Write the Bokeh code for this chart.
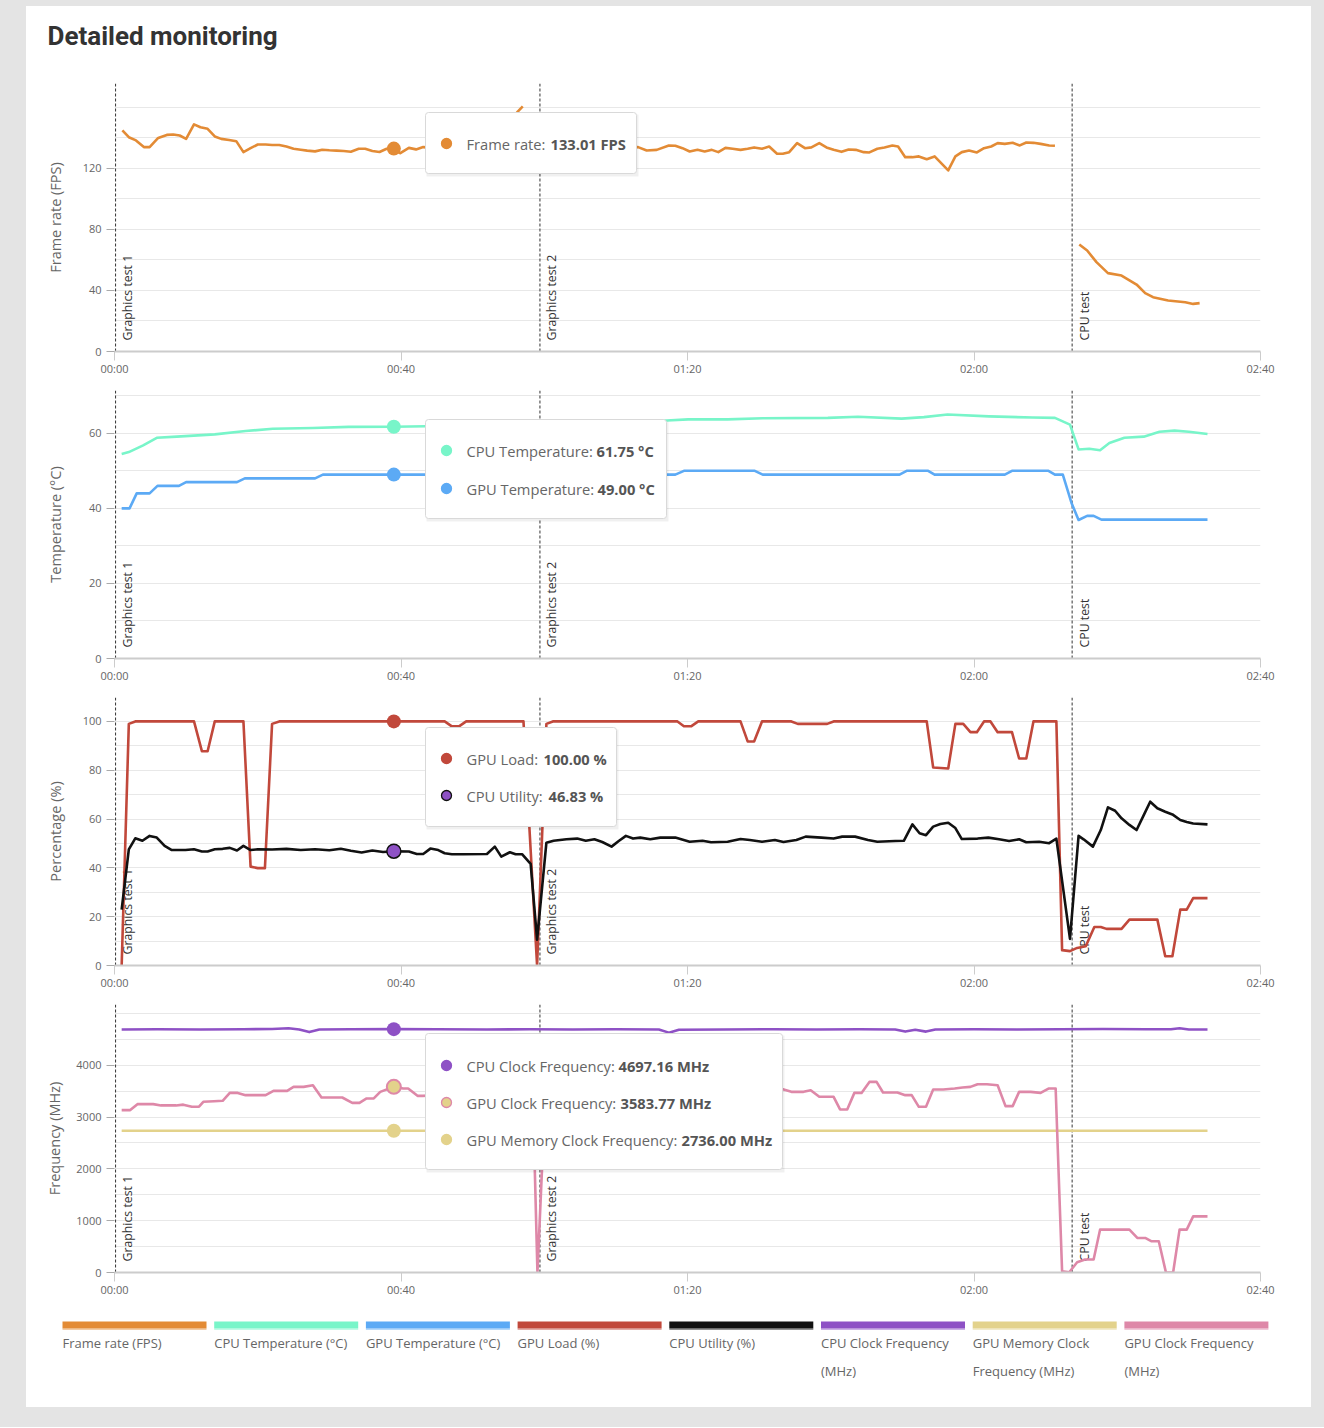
import math
import numpy as np
from bokeh.plotting import figure
from bokeh.models import Range1d, FixedTicker, Span, Label, Spacer
from bokeh.layouts import column, row
from bokeh.embed import file_html
from bokeh.resources import INLINE
from bokeh.core.properties import value

FONT = "Open Sans"
TITLE_FONT = "Roboto"
nan = float("nan")

# ---------------- data ----------------
x_ticks = [0, 40, 80, 120, 160]
x_tick_labels = ["00:00", "00:40", "01:20", "02:00", "02:40"]
test_names = ["Graphics test 1", "Graphics test 2", "CPU test"]
test_starts = [0.15, 59.4, 133.7]
hover_time = 39.0

fps_t = [1.1, 2.0, 3.0, 4.1, 4.9, 6.1, 7.3, 8.2, 9.1, 10.0,
         11.1, 12.0, 13.0, 14.0, 14.9, 16.0, 17.0, 18.0, 19.0, 20.0,
         21.1, 22.0, 23.0, 24.0, 25.0, 26.0, 26.9, 28.0, 29.0, 30.0,
         31.0, 32.0, 33.0, 34.1, 35.0, 36.0, 37.0, 38.0, 39.0, 39.9,
         41.1, 42.1, 43.1, 44.5, 46.0, 47.5, 49.0, 50.5, 52.0, 53.5,
         55.2, 56.2, 57.0, nan, 60.5, 62.0, 64.0, 66.0, 68.0, 70.0,
         72.0, 73.1, 74.3, 75.7, 77.4, 78.3, 79.3, 80.3, 81.4, 82.4,
         83.4, 84.3, 85.3, 86.3, 87.4, 88.4, 89.3, 90.4, 91.4, 92.5,
         93.3, 94.2, 95.3, 96.4, 97.3, 98.4, 99.4, 100.4, 101.5, 102.5,
         103.5, 104.6, 105.4, 106.5, 107.5, 108.6, 109.4, 110.4, 111.4, 112.3,
         113.4, 114.5, 116.4, 117.4, 118.3, 119.3, 120.4, 121.4, 122.4, 123.3,
         124.3, 125.4, 126.4, 127.3, 128.3, 129.3, 130.5, 131.3, nan, 134.7,
         135.8, 137.1, 138.7, 140.6, 142.7, 143.9, 145.0, 147.1, 149.5, 150.6,
         151.5]
fps_v = [145.0, 140.5, 138.4, 134.0, 134.0, 140.0, 142.0, 142.3, 141.6, 139.4,
         148.9, 147.0, 146.0, 141.0, 139.4, 138.7, 137.9, 130.7, 133.3, 135.7,
         135.7, 135.4, 135.4, 134.4, 132.9, 132.3, 131.7, 131.2, 132.3, 131.9,
         131.7, 131.4, 131.0, 132.9, 132.9, 131.4, 130.8, 132.9, 133.01, 130.0,
         133.5, 132.5, 134.0, 133.5, 134.0, 133.0, 134.5, 133.5, 134.0, 135.0,
         142.0, 156.7, 160.7, nan, 136.0, 134.0, 133.0, 134.0, 133.0, 134.0,
         133.5, 134.0, 131.8, 132.2, 135.1, 134.9, 133.3, 131.1, 132.2, 131.1,
         132.2, 130.7, 133.5, 132.9, 132.2, 132.9, 133.8, 132.9, 134.4, 129.6,
         129.6, 130.7, 136.6, 133.3, 133.8, 136.6, 133.8, 132.2, 130.9, 132.4,
         132.2, 130.7, 130.5, 132.9, 133.8, 135.1, 134.4, 127.4, 127.4, 127.9,
         126.1, 127.9, 118.7, 127.9, 130.7, 131.8, 130.5, 133.3, 134.4, 136.6,
         136.1, 136.8, 135.1, 137.0, 136.8, 136.1, 135.1, 134.9, nan, 70.2,
         66.2, 58.6, 51.4, 49.8, 43.9, 38.3, 35.6, 33.4, 32.3, 31.2,
         31.7]

cpu_temp_t = [1.0, 2.0, 4.0, 5.9, 8.7, 14.0, 18.3, 22.1, 27.7, 32.7,
              39.0, 48.0, 55.0, 62.0, 70.0, 76.0, 77.1, 80.1, 85.6, 90.5,
              99.6, 103.8, 109.9, 113.0, 116.3, 122.1, 128.2, 131.3, 133.4, 134.6,
              136.1, 137.6, 138.9, 141.0, 143.7, 145.9, 148.0, 150.0, 152.6]
cpu_temp_v = [54.5, 55.0, 56.8, 58.8, 59.1, 59.7, 60.6, 61.2, 61.4, 61.7,
              61.75, 62.0, 62.3, 62.7, 63.1, 63.3, 63.4, 63.7, 63.7, 64.0,
              64.1, 64.4, 63.9, 64.3, 65.0, 64.5, 64.2, 64.1, 62.3, 55.7,
              55.9, 55.5, 57.4, 58.8, 59.1, 60.4, 60.7, 60.4, 59.8]

gpu_temp_t = [1.0, 2.1, 3.1, 4.9, 6.0, 9.0, 10.0, 17.1, 18.2, 28.0,
              29.1, 39.0, 60.0, 77.1, 78.3, 79.5, 89.4, 90.5, 109.6, 110.6,
              113.6, 114.5, 124.3, 125.3, 130.4, 131.3, 132.4, 133.6, 134.6, 135.8,
              136.7, 137.8, 152.6]
gpu_temp_v = [40, 40, 44, 44, 46, 46, 47, 47, 48, 48,
              49, 49, 49, 49, 49, 50, 50, 49, 49, 50,
              50, 49, 49, 50, 50, 49, 49, 41.5, 36.9, 38,
              38, 37, 37]

gpu_load_t = [1.0, 2.0, 2.9, 11.1, 12.2, 13.0, 14.0, 18.0, 19.0, 20.0,
              21.0, 22.0, 23.0, 39.0, 46.1, 47.1, 48.1, 49.1, 57.1, 59.0,
              60.3, 61.2, 78.6, 79.5, 80.5, 81.5, 87.4, 88.4, 89.3, 90.4,
              94.5, 95.4, 99.5, 100.4, 113.4, 114.3, 116.4, 117.4, 118.5, 119.5,
              120.4, 121.4, 122.3, 123.3, 125.3, 126.3, 127.3, 128.3, 131.5, 132.3,
              133.4, 134.4, 135.6, 136.8, 137.7, 138.5, 140.6, 141.7, 145.6, 146.7,
              147.7, 148.8, 149.7, 150.6, 152.6]
gpu_load_v = [0, 99, 100, 100, 87.8, 87.8, 100, 100, 40.5, 39.9,
              39.9, 99, 100, 100, 100, 98, 98, 100, 100, 0,
              99, 100, 100, 98, 98, 100, 100, 91.8, 91.8, 100,
              100, 99, 99, 100, 100, 81.1, 80.7, 99, 99, 95.6,
              95.6, 100, 100, 95.6, 95.6, 84.8, 84.8, 100, 100, 6.3,
              5.9, 7.2, 7.9, 15.8, 15.8, 15, 15, 18.8, 18.8, 3.8,
              3.8, 22.9, 22.9, 27.6, 27.6]

cpu_util_t = [1.0, 2.0, 2.9, 3.9, 4.9, 5.9, 7.0, 8.0, 9.9, 11.1,
              12.2, 13.0, 14.0, 15.1, 16.1, 17.1, 18.0, 19.0, 20.0, 22.0,
              24.0, 26.0, 28.0, 30.0, 31.6, 33.0, 34.5, 36.0, 37.5, 39.0,
              41.1, 42.2, 43.1, 44.1, 45.2, 46.1, 47.1, 48.7, 52.0, 53.1,
              54.0, 55.2, 56.0, 56.9, 58.1, 59.0, 60.3, 61.3, 63.1, 64.6,
              65.8, 67.0, 68.1, 69.4, 70.4, 71.4, 72.4, 73.4, 74.8, 76.2,
              78.3, 80.3, 82.1, 83.3, 85.6, 87.4, 88.7, 90.4, 92.2, 93.4,
              95.2, 96.5, 98.7, 100.4, 101.6, 103.4, 105.2, 106.5, 109.0, 110.2,
              111.4, 112.4, 113.3, 114.3, 115.3, 116.4, 117.4, 118.3, 120.5, 122.0,
              123.5, 124.9, 126.3, 127.3, 129.1, 130.5, 131.5, 133.4, 134.6, 135.3,
              136.6, 137.7, 138.7, 139.7, 140.6, 141.7, 142.7, 143.7, 144.6, 145.6,
              146.7, 147.7, 148.8, 149.7, 150.6, 152.6]
cpu_util_v = [22.9, 47.6, 52.1, 51.1, 53.1, 52.4, 49.0, 47.3, 47.3, 47.6,
              46.7, 46.7, 47.6, 47.8, 48.2, 47.1, 49.0, 47.3, 47.6, 47.5,
              47.8, 47.3, 47.6, 47.2, 47.8, 47.0, 46.3, 47.1, 46.5, 46.83,
              46.7, 45.7, 45.7, 47.9, 47.3, 46.0, 45.6, 45.6, 45.7, 48.7,
              44.6, 46.4, 45.6, 45.6, 41.6, 10.6, 50.3, 51.1, 51.7, 52.0,
              51.1, 51.7, 50.6, 48.7, 51.0, 53.1, 52.0, 52.4, 51.7, 52.4,
              52.4, 50.7, 51.1, 50.5, 50.7, 51.8, 51.4, 50.7, 51.4, 50.6,
              51.4, 52.8, 52.4, 52.0, 52.8, 52.8, 51.4, 50.7, 51.0, 51.1,
              57.8, 54.2, 53.4, 56.9, 58.0, 58.5, 56.3, 51.8, 52.0, 52.4,
              51.7, 51.0, 51.7, 50.5, 50.7, 50.1, 52.0, 10.9, 53.1, 51.7,
              48.7, 55.5, 64.8, 63.4, 60.3, 57.6, 55.5, 61.6, 67.1, 64.4,
              63.0, 61.9, 59.6, 58.8, 58.2, 57.8]

cpu_clock_t = [1.0, 6.0, 12.0, 18.0, 22.0, 24.3, 25.8, 27.2, 28.6, 33.0,
               39.0, 45.0, 52.0, 58.0, 64.0, 70.0, 76.0, 77.4, 78.8, 85.0,
               92.0, 98.0, 104.0, 109.0, 110.4, 111.8, 113.3, 114.6, 120.0, 126.0,
               132.0, 138.0, 144.0, 147.5, 148.7, 150.0, 152.6]
cpu_clock_v = [4690, 4695, 4690, 4695, 4700, 4715, 4690, 4640, 4690, 4695,
               4697.16, 4695, 4690, 4695, 4690, 4695, 4690, 4630, 4685, 4690,
               4695, 4690, 4695, 4690, 4650, 4685, 4650, 4690, 4695, 4690,
               4695, 4700, 4695, 4695, 4715, 4690, 4690]

gpu_mem_t = [1.0, 39.0, 152.6]
gpu_mem_v = [2736, 2736, 2736]

gpu_clock_t = [1.0, 2.2, 3.2, 5.4, 6.5, 8.6, 9.6, 10.8, 11.8, 12.4,
               13.9, 15.1, 16.1, 17.2, 18.3, 21.1, 22.2, 24.1, 25.0, 26.4,
               27.7, 28.9, 31.8, 33.2, 34.2, 35.2, 36.2, 37.1, 39.0, 40.3,
               41.0, 42.3, 43.0, 45.0, 48.0, 51.0, 54.0, 57.0, 58.4, 59.05,
               60.2, 63.0, 66.0, 70.0, 74.0, 78.0, 82.0, 86.0, 90.0, 93.2,
               94.5, 96.2, 97.2, 98.4, 100.4, 101.3, 102.3, 103.3, 104.3, 105.4,
               106.4, 107.3, 109.3, 110.4, 111.3, 112.3, 113.3, 114.3, 115.7, 117.3,
               118.4, 119.5, 120.5, 121.8, 123.3, 124.4, 125.4, 126.3, 127.9, 129.3,
               130.4, 131.4, 132.3, 133.3, 134.4, 135.5, 136.7, 137.6, 141.7, 142.8,
               143.9, 144.8, 145.8, 146.8, 147.8, 148.7, 149.7, 150.6, 152.6]
gpu_clock_v = [3135, 3135, 3250, 3250, 3225, 3225, 3240, 3200, 3200, 3295,
               3305, 3314, 3467, 3467, 3423, 3423, 3506, 3506, 3583, 3583,
               3615, 3378, 3378, 3275, 3275, 3360, 3360, 3487, 3583.77, 3552,
               3552, 3410, 3410, 3420, 3450, 3480, 3500, 3520, 3500, 0,
               3600, 3580, 3560, 3540, 3520, 3510, 3500, 3520, 3540, 3540,
               3487, 3487, 3519, 3391, 3391, 3147, 3147, 3467, 3467, 3679,
               3679, 3475, 3475, 3423, 3423, 3198, 3198, 3532, 3532, 3551,
               3570, 3583, 3635, 3635, 3615, 3211, 3211, 3487, 3487, 3467,
               3551, 3551, 25, 6, 198, 250, 250, 827, 827, 667,
               667, 602, 602, 0, 0, 827, 827, 1083, 1083]

legend_line1 = ["Frame rate (FPS)", "CPU Temperature (°C)", "GPU Temperature (°C)",
                "GPU Load (%)", "CPU Utility (%)", "CPU Clock Frequency",
                "GPU Memory Clock", "GPU Clock Frequency"]
legend_line2 = ["", "", "", "", "", "(MHz)", "Frequency (MHz)", "(MHz)"]

# ---------------- style ----------------
fps_color = "#e38b35"
cpu_temp_color = "#78f5c9"
gpu_temp_color = "#5caaf5"
gpu_load_color = "#c1483b"
cpu_util_color = "#111111"
cpu_clock_color = "#8e51c5"
gpu_mem_color = "#e3d28b"
gpu_clock_color = "#de88a8"
legend_colors = [fps_color, cpu_temp_color, gpu_temp_color, gpu_load_color,
                 cpu_util_color, cpu_clock_color, gpu_mem_color, gpu_clock_color]

for a, b in [(fps_t, fps_v), (cpu_temp_t, cpu_temp_v), (gpu_temp_t, gpu_temp_v),
             (gpu_load_t, gpu_load_v), (cpu_util_t, cpu_util_v),
             (cpu_clock_t, cpu_clock_v), (gpu_mem_t, gpu_mem_v), (gpu_clock_t, gpu_clock_v)]:
    assert len(a) == len(b), (len(a), len(b))

X_MAX = 160
CARD_W = 1285
FRAME_W = 1146
FRAME_H = 268
LEFT_B = 88
RIGHT_B = 51
BOTTOM_B = 39
LW = 2.6
TIP_FONT = "14.7px"


def at_hover(ts, vs):
    return vs[ts.index(hover_time)]


def make_panel(y_max, y_ticks, grid_step, y_label, label_standoff):
    p = figure(width=CARD_W, height=FRAME_H + BOTTOM_B,
               x_range=Range1d(0, X_MAX), y_range=Range1d(0, y_max),
               output_backend="svg", toolbar_location=None,
               min_border_left=LEFT_B, min_border_right=RIGHT_B,
               min_border_top=0, min_border_bottom=BOTTOM_B,
               border_fill_color="white", background_fill_color="white",
               outline_line_color=None)
    p.xgrid.visible = False
    grid_vals = [float(g) for g in np.arange(0, y_max + 1e-9, grid_step)]
    p.ygrid.ticker = FixedTicker(ticks=grid_vals)
    p.ygrid.grid_line_color = "#e8e8e8"
    p.ygrid.grid_line_width = 1

    xa = p.xaxis[0]
    xa.ticker = FixedTicker(ticks=x_ticks)
    xa.major_label_overrides = dict(zip(x_ticks, x_tick_labels))
    xa.axis_line_color = "#cccccc"
    xa.axis_line_width = 2
    xa.major_tick_line_color = "#cccccc"
    xa.major_tick_out = 9
    xa.major_tick_in = 0
    xa.minor_tick_line_color = None
    xa.major_label_text_font = FONT
    xa.major_label_text_font_size = "11px"
    xa.major_label_text_color = "#666666"
    xa.major_label_standoff = 0

    ya = p.yaxis[0]
    ya.ticker = FixedTicker(ticks=y_ticks)
    ya.axis_line_color = None
    ya.major_tick_line_color = "#aaaaaa"
    ya.major_tick_out = 8
    ya.major_tick_in = 0
    ya.minor_tick_line_color = None
    ya.major_label_text_font = FONT
    ya.major_label_text_font_size = "11px"
    ya.major_label_text_color = "#666666"
    ya.major_label_standoff = 5
    ya.axis_label = y_label
    ya.axis_label_text_font = FONT
    ya.axis_label_text_font_size = "14.5px"
    ya.axis_label_text_font_style = "normal"
    ya.axis_label_text_color = "#666666"
    ya.axis_label_standoff = label_standoff

    for name, t0 in zip(test_names, test_starts):
        p.add_layout(Span(location=t0, dimension="height", line_color="#333333",
                          line_width=1, line_dash="3 2", level="underlay"))
        p.add_layout(Label(x=t0, y=0, x_offset=12, y_offset=11, text=name,
                           angle=math.pi / 2, text_align="left", text_baseline="middle",
                           text_font=FONT, text_font_size="12.3px", text_color="#333333",
                           level="underlay"))
    return p


def add_series(p, ts, vs, color):
    p.line(ts, vs, line_color=color, line_width=LW, line_join="round")


def add_marker(p, ts, vs, fill, edge, edge_w=0):
    p.scatter([hover_time], [at_hover(ts, vs)], size=14, fill_color=fill,
              line_color=edge, line_width=edge_w)


def add_tooltip(p, y_max, box, rows):
    x0, x1, y0, y1 = box
    X = lambda px: px * X_MAX / FRAME_W
    Y = lambda py: y_max - py * y_max / FRAME_H
    p.quad(left=[X(x0 + 1)], right=[X(x1 + 2)], top=[Y(y0 + 2)], bottom=[Y(y1 + 3)],
           fill_color="black", fill_alpha=0.06, line_color=None, level="overlay")
    p.quad(left=[X(x0)], right=[X(x1)], top=[Y(y0)], bottom=[Y(y1)],
           fill_color="white", line_color="#d9d9d9", line_width=1,
           border_radius=3, level="overlay")
    for dy, fill, edge, label, val_text, off in rows:
        p.scatter([X(332)], [Y(dy)], size=10, fill_color=fill, line_color=edge,
                  line_width=1.3, level="overlay")
        p.add_layout(Label(x=X(352), y=Y(dy), text=label, text_font=FONT,
                           text_font_size=TIP_FONT, text_color="#666666",
                           text_baseline="middle", level="overlay"))
        p.add_layout(Label(x=X(352), y=Y(dy), x_offset=off + 2, text=val_text, text_font=FONT,
                           text_font_size=TIP_FONT, text_font_style="bold",
                           text_color="#555555", text_baseline="middle", level="overlay"))


# ---------------- title ----------------
tfig = figure(width=CARD_W, height=77, title="Detailed monitoring",
              x_range=Range1d(0, 1), y_range=Range1d(0, 1),
              output_backend="svg", toolbar_location=None,
              min_border_left=LEFT_B, min_border_right=RIGHT_B, min_border_top=49,
              min_border_bottom=0, outline_line_color=None,
              border_fill_color="white", background_fill_color="white")
tfig.axis.visible = False
tfig.grid.visible = False
tfig.title.text_font = TITLE_FONT
tfig.title.text_font_size = "26px"
tfig.title.text_font_style = "bold"
tfig.title.text_color = "#333333"
tfig.title.align = "left"
tfig.title.offset = -67

# ---------------- panel 1: FPS ----------------
p1 = make_panel(175.7, [0, 40, 80, 120], 20, "Frame rate (FPS)", 15)
add_series(p1, fps_t, fps_v, fps_color)
add_marker(p1, fps_t, fps_v, fps_color, fps_color)
add_tooltip(p1, 175.7, (311, 522, 29, 90), [
    (60, fps_color, fps_color, "Frame rate: ", f"{at_hover(fps_t, fps_v):.2f} FPS", 82)])

# ---------------- panel 2: temperature ----------------
p2 = make_panel(71.4, [0, 20, 40, 60], 10, "Temperature (°C)", 21)
add_series(p2, cpu_temp_t, cpu_temp_v, cpu_temp_color)
add_series(p2, gpu_temp_t, gpu_temp_v, gpu_temp_color)
add_marker(p2, cpu_temp_t, cpu_temp_v, cpu_temp_color, cpu_temp_color)
add_marker(p2, gpu_temp_t, gpu_temp_v, gpu_temp_color, gpu_temp_color)
add_tooltip(p2, 71.4, (311, 552, 29, 128), [
    (60, cpu_temp_color, cpu_temp_color, "CPU Temperature: ",
     f"{at_hover(cpu_temp_t, cpu_temp_v):.2f} °C", 128),
    (98, gpu_temp_color, gpu_temp_color, "GPU Temperature: ",
     f"{at_hover(gpu_temp_t, gpu_temp_v):.2f} °C", 129)])

# ---------------- panel 3: percentage ----------------
p3 = make_panel(109.8, [0, 20, 40, 60, 80, 100], 10, "Percentage (%)", 15)
add_series(p3, gpu_load_t, gpu_load_v, gpu_load_color)
add_series(p3, cpu_util_t, cpu_util_v, cpu_util_color)
add_marker(p3, gpu_load_t, gpu_load_v, gpu_load_color, gpu_load_color)
add_marker(p3, cpu_util_t, cpu_util_v, cpu_clock_color, "#111111", 1.5)
add_tooltip(p3, 109.8, (311, 502, 30, 129), [
    (61, gpu_load_color, gpu_load_color, "GPU Load: ",
     f"{at_hover(gpu_load_t, gpu_load_v):.2f} %", 75),
    (98, cpu_clock_color, "#111111", "CPU Utility: ",
     f"{at_hover(cpu_util_t, cpu_util_v):.2f} %", 80)])

# ---------------- panel 4: frequency ----------------
p4 = make_panel(5173, [0, 1000, 2000, 3000, 4000], 500, "Frequency (MHz)", 9)
add_series(p4, cpu_clock_t, cpu_clock_v, cpu_clock_color)
add_series(p4, gpu_mem_t, gpu_mem_v, gpu_mem_color)
add_series(p4, gpu_clock_t, gpu_clock_v, gpu_clock_color)
add_marker(p4, cpu_clock_t, cpu_clock_v, cpu_clock_color, cpu_clock_color)
add_marker(p4, gpu_clock_t, gpu_clock_v, gpu_mem_color, gpu_clock_color, 2)
add_marker(p4, gpu_mem_t, gpu_mem_v, gpu_mem_color, gpu_mem_color)
add_tooltip(p4, 5173, (311, 668, 29, 165), [
    (61, cpu_clock_color, cpu_clock_color, "CPU Clock Frequency: ",
     f"{at_hover(cpu_clock_t, cpu_clock_v):.2f} MHz", 150),
    (98, gpu_mem_color, gpu_clock_color, "GPU Clock Frequency: ",
     f"{at_hover(gpu_clock_t, gpu_clock_v):.2f} MHz", 152),
    (135, gpu_mem_color, gpu_mem_color, "GPU Memory Clock Frequency: ",
     f"{at_hover(gpu_mem_t, gpu_mem_v):.2f} MHz", 213)])

# ---------------- legend ----------------
LEG_H = 96
lfig = figure(width=CARD_W, height=LEG_H,
              x_range=Range1d(0, CARD_W), y_range=Range1d(LEG_H, 0),
              output_backend="svg", toolbar_location=None,
              min_border_left=0, min_border_right=0, min_border_top=0,
              min_border_bottom=0, outline_line_color=None,
              border_fill_color="white", background_fill_color="white")
lfig.frame_align = False
lfig.axis.visible = False
lfig.grid.visible = False
leg_left = [36 + i * 151.7 for i in range(len(legend_colors))]
leg_right = [l + 144 for l in leg_left]
lfig.quad(left=leg_left, right=leg_right, top=[10] * 8, bottom=[17] * 8,
          fill_color=legend_colors, line_color=None)
lfig.quad(left=leg_left, right=leg_right, top=[17] * 8, bottom=[18.5] * 8,
          fill_color=legend_colors, fill_alpha=0.45, line_color=None)
lfig.text(x=leg_left, y=[31] * 8, text=legend_line1, text_baseline="middle",
          text_font=value(FONT), text_font_size="13px", text_color="#666666")
lfig.text(x=leg_left, y=[59] * 8, text=legend_line2, text_baseline="middle",
          text_font=value(FONT), text_font_size="13px", text_color="#666666")

card = column(tfig, p1, p2, p3, p4, lfig, spacing=0,
              styles={"background-color": "white"})
page = column(Spacer(width=1324, height=6),
              row(Spacer(width=26, height=1), card, Spacer(width=13, height=1), spacing=0),
              Spacer(width=1324, height=20), spacing=0,
              styles={"background-color": "#e4e4e4"})

open("out.html", "w").write(file_html(page, INLINE, title="Detailed monitoring"))
